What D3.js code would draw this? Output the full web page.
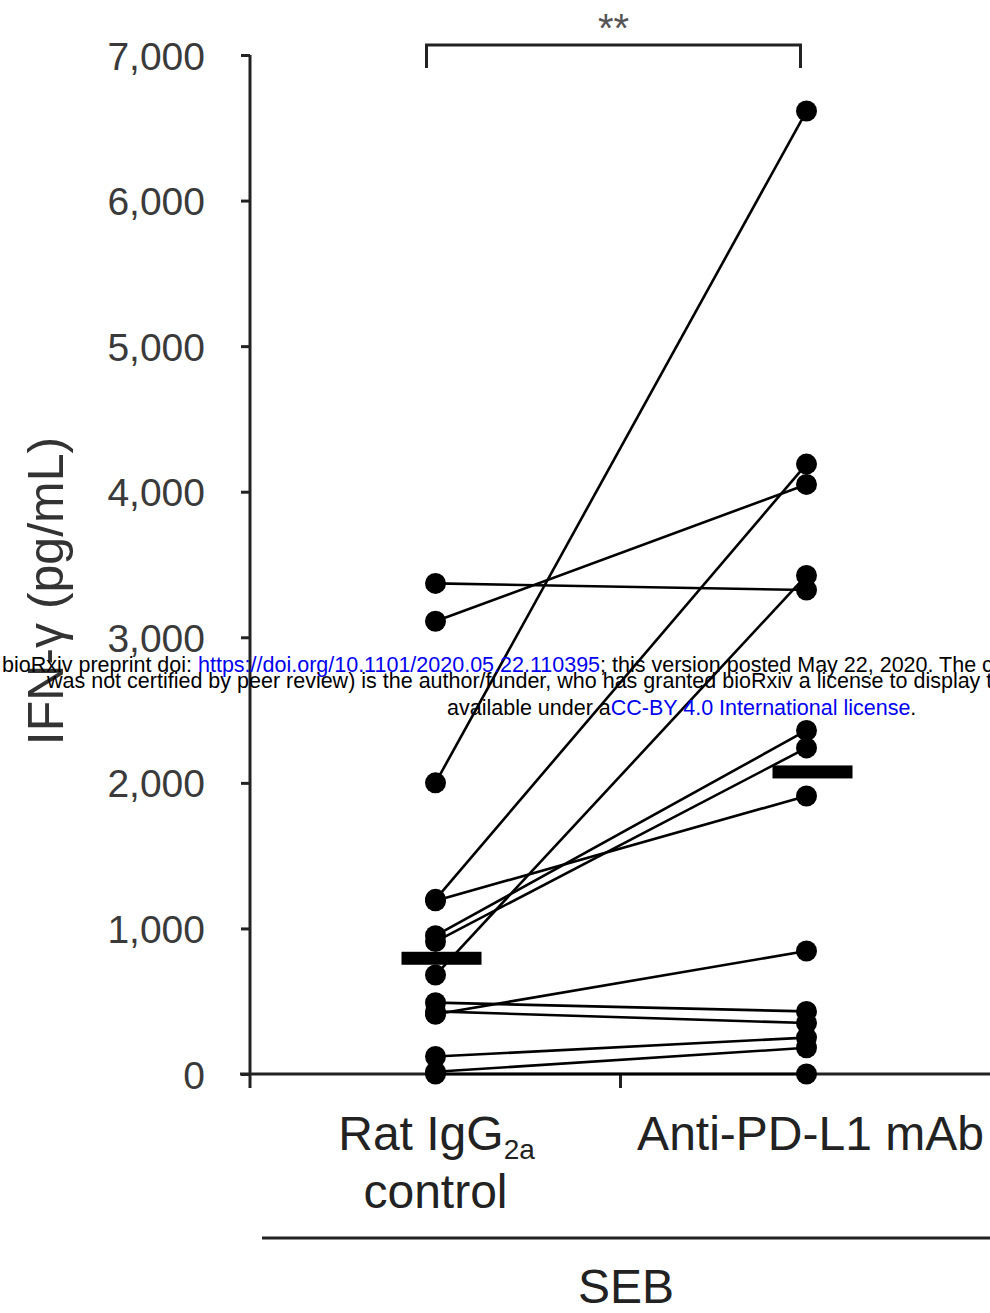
<!DOCTYPE html>
<html>
<head>
<meta charset="utf-8">
<script src="https://cdn.jsdelivr.net/npm/d3@7"></script>
<style>
  body { margin: 0; background: #fff; }
  svg { display: block; font-family: 'Liberation Sans', Arial, sans-serif; }
</style>
</head>
<body>
<div class="chart"></div>
<script>
// DATA ------------------------------
const groups = ['Rat IgG2a control', 'Anti-PD-L1 mAb'];
// paired values per subject (pg/mL)
const controlValues = [3370, 3110, 2000, 1200, 1190, 950, 910, 680, 490, 430, 410, 120, 15, 0];
const antiValues = [3325, 4050, 6615, 4190, 1910, 2360, 2240, 3425, 430, 350, 845, 250, 180, 0];
const yTicks = [0, 1000, 2000, 3000, 4000, 5000, 6000, 7000];
const yTitle = 'IFN-γ (pg/mL)';
const stimLabel = 'SEB';
const sigLabel = '**';
const bannerLines = [
  [['bioRxiv preprint doi: ', '#000'], ['https://doi.org/10.1101/2020.05.22.110395', '#0000ee'], ['; this version posted May 22, 2020. The copyright holder for this preprint (which', '#000']],
  [['was not certified by peer review) is the author/funder, who has granted bioRxiv a license to display the preprint in perpetuity. It is made', '#000']],
  [['available under a', '#000'], ['CC-BY 4.0 International license', '#0000ee'], ['.', '#000']]
];

// CHART INIT ------------------------------
const W = 990, H = 1313;
const svg = d3.select('.chart').append('svg').attr('width', W).attr('height', H);

const xScale = d3.scaleBand().domain(groups).range([250, 992]).padding(0);
const yScale = d3.scaleLinear().domain([0, 7000]).range([1074, 55]);
const cx = (g) => xScale(g) + xScale.bandwidth() / 2;

// y axis
const yAxis = d3.axisLeft(yScale).tickValues(yTicks).tickSize(9).tickPadding(36).tickFormat(d3.format(','));
const yAxisGroup = svg.append('g').attr('transform', 'translate(250,0)').call(yAxis);
yAxisGroup.select('.domain').remove();
yAxisGroup.selectAll('.tick line').attr('stroke', '#222').attr('stroke-width', 3);
yAxisGroup.selectAll('.tick text')
  .attr('font-size', 39).attr('fill', '#3a3a3a')
  .attr('font-family', "'Liberation Sans', Arial, sans-serif")
  .attr('dy', '0.36em');
svg.append('line').attr('x1', 250).attr('x2', 250)
  .attr('y1', yScale(7000)).attr('y2', yScale(0) + 14)
  .attr('stroke', '#222').attr('stroke-width', 3);

// x axis with ticks at band edges
svg.append('line').attr('x1', 240).attr('x2', W)
  .attr('y1', yScale(0)).attr('y2', yScale(0))
  .attr('stroke', '#222').attr('stroke-width', 3);
svg.selectAll('.xtick').data(groups.slice(1)).enter().append('line')
  .attr('class', 'xtick')
  .attr('x1', (d) => xScale(d) - 0.5).attr('x2', (d) => xScale(d) - 0.5)
  .attr('y1', yScale(0)).attr('y2', yScale(0) + 14)
  .attr('stroke', '#222').attr('stroke-width', 3);

// y axis title
svg.append('text')
  .attr('transform', 'translate(63,591) rotate(-90)')
  .attr('text-anchor', 'middle').attr('font-size', 50).attr('fill', '#333')
  .text(yTitle);

// paired lines
const pairs = controlValues.map((v, i) => ({ a: v, b: antiValues[i] }));
svg.append('g').selectAll('line').data(pairs).enter().append('line')
  .attr('x1', cx(groups[0])).attr('x2', cx(groups[1]))
  .attr('y1', (d) => yScale(d.a)).attr('y2', (d) => yScale(d.b))
  .attr('stroke', '#000').attr('stroke-width', 2.6);

// points
const pts = [];
controlValues.forEach((v) => pts.push({ g: groups[0], v }));
antiValues.forEach((v) => pts.push({ g: groups[1], v }));
svg.append('g').selectAll('circle').data(pts).enter().append('circle')
  .attr('cx', (d) => cx(d.g)).attr('cy', (d) => yScale(d.v))
  .attr('r', 10.5).attr('fill', '#000');

// median bars
const medians = [d3.median(controlValues), d3.median(antiValues)];
svg.append('g').selectAll('rect').data(medians).enter().append('rect')
  .attr('x', (d, i) => cx(groups[i]) + 6 - 40)
  .attr('y', (d) => yScale(d) - 6.5)
  .attr('width', 80).attr('height', 13).attr('fill', '#000');

// significance bracket
const bx0 = cx(groups[0]) - 9, bx1 = cx(groups[1]) - 6, by = yScale(7000) - 10;
svg.append('path')
  .attr('d', `M${bx0},${by + 23}V${by}H${bx1}V${by + 23}`)
  .attr('fill', 'none').attr('stroke', '#222').attr('stroke-width', 3);
svg.append('text').attr('x', (bx0 + bx1) / 2).attr('y', 42)
  .attr('text-anchor', 'middle').attr('font-size', 40).attr('fill', '#555')
  .text(sigLabel);

// category labels
const lab0 = svg.append('text').attr('x', cx(groups[0]) + 1).attr('y', 1150)
  .attr('text-anchor', 'middle').attr('font-size', 48).attr('fill', '#222');
lab0.append('tspan').text('Rat IgG');
lab0.append('tspan').attr('font-size', 28).attr('dy', 9).text('2a');
svg.append('text').attr('x', cx(groups[0])).attr('y', 1208)
  .attr('text-anchor', 'middle').attr('font-size', 48).attr('fill', '#222')
  .text('control');
svg.append('text').attr('x', cx(groups[1]) + 4).attr('y', 1150)
  .attr('text-anchor', 'middle').attr('font-size', 48).attr('fill', '#222')
  .text(groups[1]);

// SEB bracket line and label
svg.append('line').attr('x1', 262).attr('x2', W).attr('y1', 1238).attr('y2', 1238)
  .attr('stroke', '#222').attr('stroke-width', 3);
svg.append('text').attr('x', xScale(groups[1]) + 5).attr('y', 1303)
  .attr('text-anchor', 'middle').attr('font-size', 48).attr('fill', '#222')
  .text(stimLabel);

// preprint banner on top
const bannerX = [2, 47, 447];
const bannerY = [672, 688, 715];
bannerLines.forEach((parts, i) => {
  const t = svg.append('text').attr('x', bannerX[i]).attr('y', bannerY[i])
    .attr('font-size', 21.5).attr('font-family', "'Liberation Sans', Arial, sans-serif");
  parts.forEach((p) => t.append('tspan').attr('fill', p[1]).text(p[0]));
});
</script>
</body>
</html>
